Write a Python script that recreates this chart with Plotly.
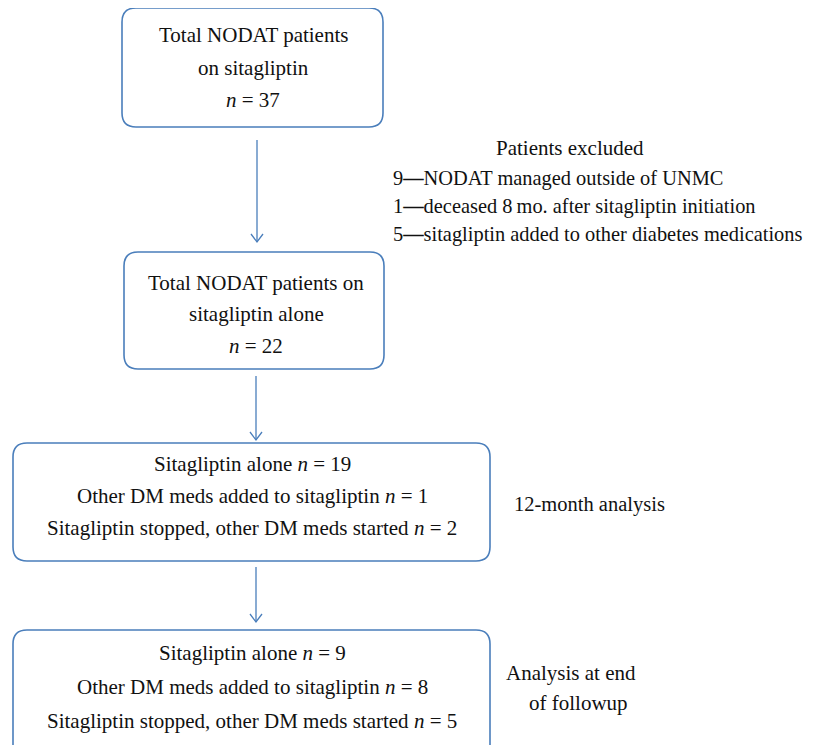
import plotly.graph_objects as go

# ---- data ----
total_n = 37
excluded_counts = [9, 1, 5]
excluded_reasons = ["NODAT managed outside of UNMC",
                    "deceased 8\u2009mo. after sitagliptin initiation",
                    "sitagliptin added to other diabetes medications"]
alone_n = 22
outcome_labels = ["Sitagliptin alone",
                  "Other DM meds added to sitagliptin",
                  "Sitagliptin stopped, other DM meds started"]
month12_counts = [19, 1, 2]
end_counts = [9, 8, 5]

W, H = 817, 745
OFF = 8  # page body margin
BLUE = "#4a7ebb"
FAMILY = "'Liberation Serif', 'DejaVu Serif', serif"
FONT = dict(family=FAMILY, size=21, color="#111111")

fig = go.Figure()

def rbox(x0, y0, x1, y1, r=14):
    p = (f"M {x0+r},{y0} L {x1-r},{y0} Q {x1},{y0} {x1},{y0+r} "
         f"L {x1},{y1-r} Q {x1},{y1} {x1-r},{y1} L {x0+r},{y1} "
         f"Q {x0},{y1} {x0},{y1-r} L {x0},{y0+r} Q {x0},{y0} {x0+r},{y0} Z")
    fig.add_shape(type="path", path=p, line=dict(color=BLUE, width=1.6),
                  xref="x", yref="y")

def arrow(x, y0, y1):
    fig.add_shape(type="line", x0=x, x1=x, y0=y0, y1=y1,
                  line=dict(color=BLUE, width=1.3), xref="x", yref="y")
    fig.add_shape(type="path", path=f"M {x-6},{y1-8} L {x},{y1} L {x+6},{y1-8}",
                  line=dict(color=BLUE, width=1.3), xref="x", yref="y")

def text(x, y, s, xanchor="center", size=21):
    fig.add_annotation(x=x, y=y, text=s, showarrow=False, xanchor=xanchor,
                       yanchor="middle", font=dict(FONT, size=size),
                       xref="x", yref="y")

# boxes
rbox(122, 8, 383, 127)
rbox(124, 252, 384, 369)
rbox(13, 443, 490, 561)
rbox(13, 630, 490, 760)

# arrows
arrow(257, 140, 242)
arrow(256, 376, 440)
arrow(256, 567, 622)

# box 1
text(253, 35, "Total NODAT patients")
text(253, 68, "on sitagliptin")
text(253, 100, f"<i>n</i> = {total_n}")

# excluded
text(570, 148, "Patients excluded")
for i, (c, r) in enumerate(zip(excluded_counts, excluded_reasons)):
    text(391, 178 + 28 * i, f"{c}<b>\u2014</b>{r}", xanchor="left", size=20.4)

# box 2
text(256, 283, "Total NODAT patients on")
text(256, 314, "sitagliptin alone")
text(256, 346, f"<i>n</i> = {alone_n}")

# box 3
for i, (lab, c) in enumerate(zip(outcome_labels, month12_counts)):
    text(252, 464 + 32 * i, f"{lab} <i>n</i> = {c}")
text(512, 504, "12-month analysis", xanchor="left", size=20.5)

# box 4
for i, (lab, c) in enumerate(zip(outcome_labels, end_counts)):
    text(252, 653 + 34 * i, f"{lab} <i>n</i> = {c}")
text(571, 673, "Analysis at end")
text(578, 703, "of followup")

fig.update_xaxes(range=[OFF, W + OFF], visible=False, fixedrange=True)
fig.update_yaxes(range=[H + OFF, OFF], visible=False, fixedrange=True)
fig.update_layout(width=W, height=H, margin=dict(l=0, r=0, t=0, b=0),
                  plot_bgcolor="white", paper_bgcolor="white", showlegend=False)

fig.write_html("out.html")
